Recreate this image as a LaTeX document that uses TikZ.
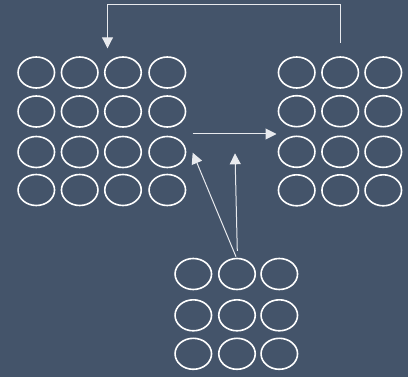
\documentclass[tikz,border=0pt]{standalone}
\usetikzlibrary{shapes.geometric,arrows.meta}
\definecolor{bgc}{HTML}{44546A}
\definecolor{linec}{HTML}{E8EAEE}
\begin{document}
\begin{tikzpicture}[x=1pt,y=-1pt,
  cell/.style={ellipse,draw=white,line width=1.6pt,minimum width=36.5pt,minimum height=31pt,inner sep=0pt},
  conn/.style={draw=linec,line width=1pt,-{Triangle[width=11pt,length=11pt]}}]
\fill[bgc] (0,0) rectangle (408,377);
\useasboundingbox (0,0) rectangle (408,377);
% left grid 4x4
\foreach \r/\y in {1/72.5,2/111.5,3/152,4/190}{
  \foreach \c/\x in {1/36.3,2/79.7,3/123,4/167.3}{
    \node[cell] (l-\r-\c) at (\x,\y) {};
  }
}
% right grid 4x3
\foreach \r/\y in {1/72.5,2/111.2,3/151.8,4/190.3}{
  \foreach \c/\x in {1/296.7,2/340.2,3/383.3}{
    \node[cell] (r-\r-\c) at (\x,\y) {};
  }
}
% bottom grid 3x3
\foreach \r/\y in {1/274,2/315.3,3/353.8}{
  \foreach \c/\x in {1/193.3,2/237,3/279.3}{
    \node[cell] (b-\r-\c) at (\x,\y) {};
  }
}
\coordinate (topstart) at (340.3,42.7);
\coordinate (topend) at (107.5,48.3);
\coordinate (midstart) at (192.7,134);
\coordinate (midend) at (276.5,134);
\coordinate (bstartA) at (236,256.7);
\coordinate (bendA) at (192.7,152.7);
\coordinate (bstartB) at (237.3,251);
\coordinate (bendB) at (235,153.3);
\draw[conn] (topstart) -- ++(0,-38) -| (topend);
\draw[conn] (midstart) -- (midend);
\draw[conn] (bstartA) -- (bendA);
\draw[conn] (bstartB) -- (bendB);
\end{tikzpicture}
\end{document}
